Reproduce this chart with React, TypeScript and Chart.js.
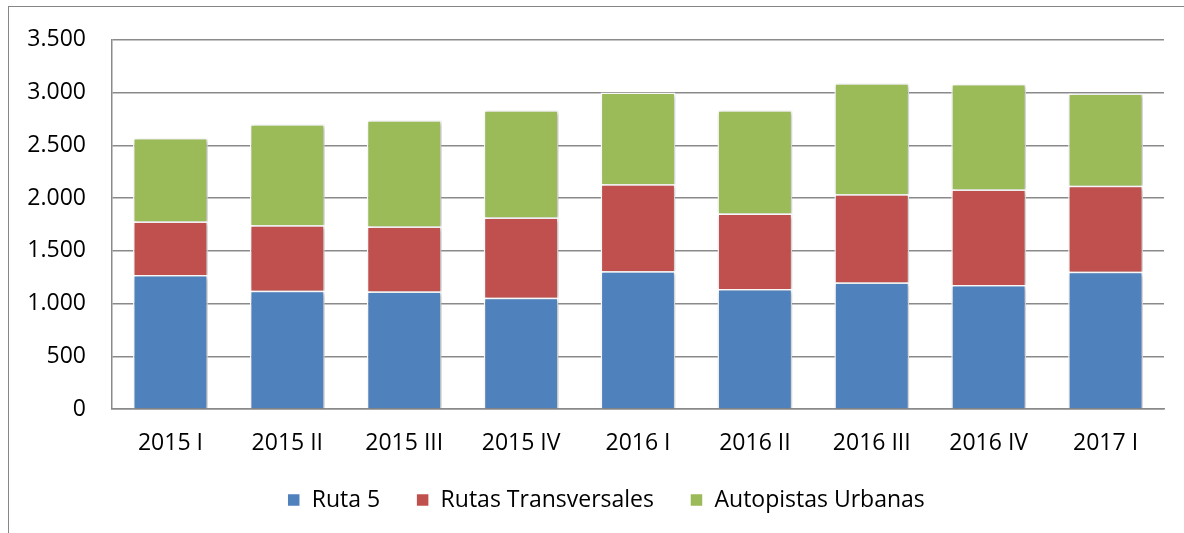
import React, { useEffect, useRef } from "react";
import { Chart, registerables } from "chart.js";

Chart.register(...registerables);

const categories = ["2015 I", "2015 II", "2015 III", "2015 IV", "2016 I", "2016 II", "2016 III", "2016 IV", "2017 I"];
const ruta5 = [1270, 1120, 1115, 1055, 1305, 1138, 1200, 1176, 1300];
const rutasTransversales = [508, 621, 616, 761, 825, 715, 835, 906, 817];
const autopistasUrbanas = [790, 959, 1007, 1016, 870, 979, 1054, 998, 875];
const seriesNames = ["Ruta 5", "Rutas Transversales", "Autopistas Urbanas"];
const seriesColors = ["#4F81BD", "#C0504D", "#9BBB59"];

const FONT = "'Open Sans', 'Liberation Sans', sans-serif";
const GRID = "#8a8a8a";

const formatThousands = (v: number) => String(v).replace(/\B(?=(\d{3})+(?!\d))/g, ".");

const shadowPlugin = {
  id: "barShadow",
  afterLayout(chart: any) {
    // widen the y-axis label clip region so right-aligned labels are not cut
    if (chart.scales.y) chart.scales.y.left = 0;
  },
  beforeDatasetsDraw(chart: any) {
    const ctx = chart.ctx;
    ctx.save();
    ctx.shadowColor = "rgba(0,0,0,0.28)";
    ctx.shadowBlur = 4;
    ctx.shadowOffsetX = 1.5;
    ctx.shadowOffsetY = 1.5;
  },
  afterDatasetsDraw(chart: any) {
    chart.ctx.restore();
  },
};

export default function App() {
  const ref = useRef<HTMLCanvasElement | null>(null);

  useEffect(() => {
    if (!ref.current) return;
    const values = [ruta5, rutasTransversales, autopistasUrbanas];
    const chart = new Chart(ref.current, {
      type: "bar",
      data: {
        labels: categories,
        datasets: values.map((d, i) => ({
          label: seriesNames[i],
          data: d,
          backgroundColor: seriesColors[i],
          borderColor: "#ffffff",
          borderWidth: 1.5,
          barPercentage: 0.64,
          categoryPercentage: 1,
        })),
      },
      options: {
        animation: false,
        responsive: false,
        maintainAspectRatio: false,
        layout: { padding: { top: 37, left: 48, right: 20, bottom: 11.5 } },
        plugins: {
          tooltip: { enabled: false },
          legend: {
            position: "bottom",
            labels: {
              font: { family: FONT, size: 23 },
              color: "#000000",
              boxWidth: 13,
              boxHeight: 13,
              padding: 36,
            },
          },
        },
        scales: {
          x: {
            stacked: true,
            grid: { display: false, drawTicks: false },
            border: { display: true, color: GRID, width: 1.5 },
            ticks: { font: { family: FONT, size: 23 }, color: "#000000", padding: 21, maxRotation: 0 },
            afterFit: (s: any) => { s.height = 43.5; },
          },
          y: {
            stacked: true,
            min: 0,
            max: 3500,
            grid: { color: GRID, lineWidth: 1.5, drawTicks: false },
            border: { display: true, color: GRID, width: 1.5 },
            ticks: {
              stepSize: 500,
              font: { family: FONT, size: 23 },
              color: "#000000",
              padding: 26,
              callback: (v: any) => formatThousands(Number(v)),
            },
            afterFit: (s: any) => { s.width = 64; },
          },
        },
      },
      plugins: [shadowPlugin],
    });
    return () => chart.destroy();
  }, []);

  return (
    <div>
      <div
        style={{
          position: "fixed",
          left: 8,
          top: 6,
          width: 1176,
          height: 527,
          borderTop: "1.5px solid #868686",
          borderLeft: "1.5px solid #868686",
          boxSizing: "border-box",
          background: "#ffffff",
        }}
      />
      <div style={{ position: "fixed", left: 0, top: 0, width: 1184, height: 533 }}>
        <canvas ref={ref} width={1184} height={533} style={{ display: "block", width: 1184, height: 533 }} />
      </div>
    </div>
  );
}
